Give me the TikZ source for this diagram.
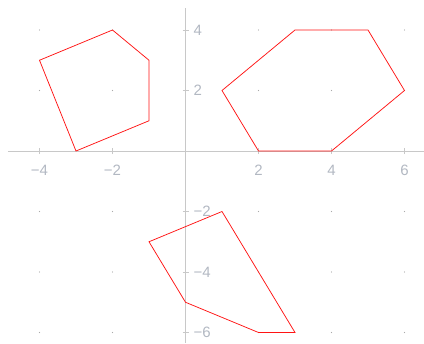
\documentclass[tikz,border=0pt]{standalone}
\usepackage{fontspec}
\setmainfont{Liberation Sans}
\definecolor{axisgray}{RGB}{200,200,200}
\definecolor{labelgray}{RGB}{178,184,194}
\definecolor{dotgray}{RGB}{170,170,170}
\definecolor{polyred}{RGB}{255,20,20}
\begin{document}
\begin{tikzpicture}[x=36.5pt,y=30.25pt,
  axisline/.style={draw=axisgray,line width=0.9pt},
  tickmark/.style={draw=axisgray,line width=0.9pt},
  xlab/.style={text=labelgray,font=\fontsize{15}{15}\selectfont,anchor=north,inner sep=0pt},
  ylab/.style={text=labelgray,font=\fontsize{15}{15}\selectfont,anchor=west,inner sep=0pt},
  griddot/.style={fill=dotgray,draw=none},
  poly/.style={draw=polyred,line width=0.75pt,line join=miter}]
\useasboundingbox (-5.0822,4.9917) rectangle (6.5342,-6.3471);
% grid dots
\foreach \gx in {-4,-2,2,4,6}
  \foreach \gy in {-6,-4,-2,2,4}
    \fill[griddot] (\gx,\gy) circle (0.55pt);
% axes
\coordinate (xl) at (-4.863,0);
\coordinate (xr) at (6.534,0);
\coordinate (yt) at (0,4.727);
\coordinate (yb) at (0,-6.347);
\draw[axisline] (xl) -- (xr);
\draw[axisline] (yt) -- (yb);
% ticks and labels
\foreach \t/\s in {-4/−4,-2/−2,2/2,4/4,6/6}{
  \draw[tickmark] ([yshift=-3pt]\t,0) -- ([yshift=3pt]\t,0);
  \node[xlab] (xl\t) at ([yshift=-13.5pt]\t,0) {\s};
}
\foreach \t/\s in {-6/−6,-4/−4,-2/−2,2/2,4/4}{
  \draw[tickmark] ([xshift=-3pt]0,\t) -- ([xshift=3pt]0,\t);
  \node[ylab] (yl\t) at ([xshift=8pt]0,\t) {\s};
}
% polygons
\draw[poly] (-4,3) -- (-2,4) -- (-1,3) -- (-1,1) -- (-3,0) -- cycle;
\draw[poly] (1,2) -- (3,4) -- (5,4) -- (6,2) -- (4,0) -- (2,0) -- cycle;
\draw[poly] (-1,-3) -- (1,-2) -- (3,-6) -- (2,-6) -- (0,-5) -- cycle;
\end{tikzpicture}
\end{document}
